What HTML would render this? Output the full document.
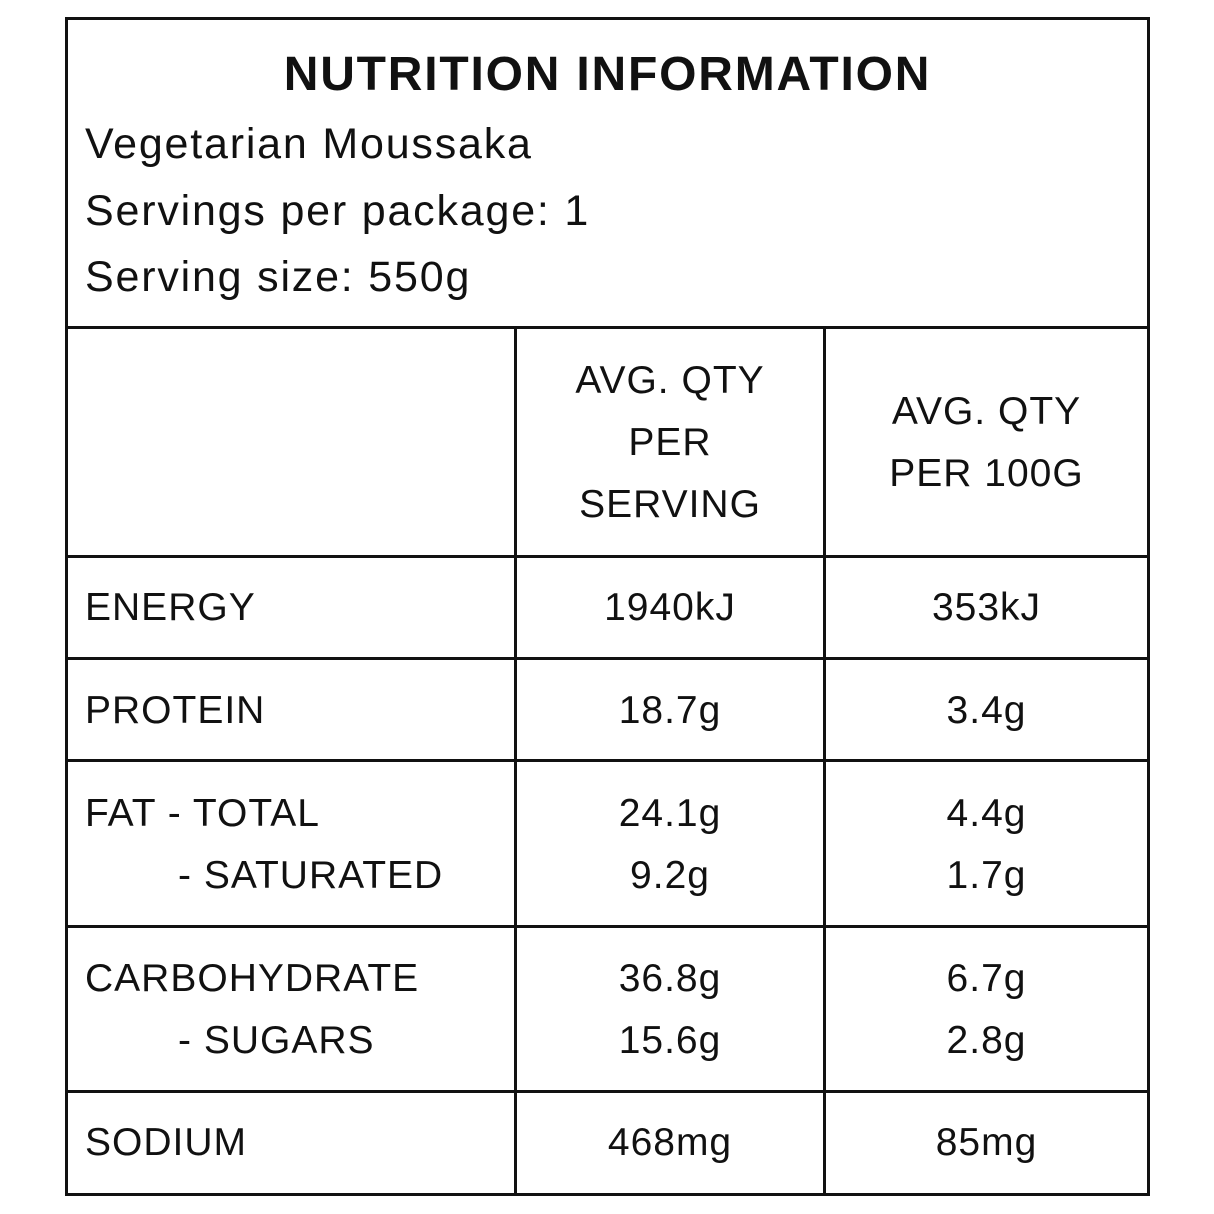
<!DOCTYPE html>
<html><head><style>
body{margin:0;width:1214px;height:1214px;background:#fff;position:relative;font-family:"Liberation Sans",sans-serif;color:#111;overflow:hidden}
.h{position:absolute;background:#111;height:3px}
.v{position:absolute;background:#111;width:3px}
.t{position:absolute;font-size:39px;line-height:62px;white-space:nowrap;letter-spacing:1px}
.c{text-align:center}
.m{font-size:43px;letter-spacing:1.8px}
</style></head><body>
<div class="h" style="left:65px;top:17px;width:1085px"></div>
<div class="h" style="left:65px;top:1193px;width:1085px"></div>
<div class="v" style="left:65px;top:17px;height:1179px"></div>
<div class="v" style="left:1147px;top:17px;height:1179px"></div>
<div class="h" style="left:65px;top:326px;width:1085px"></div>
<div class="h" style="left:65px;top:555px;width:1085px"></div>
<div class="h" style="left:65px;top:657px;width:1085px"></div>
<div class="h" style="left:65px;top:759px;width:1085px"></div>
<div class="h" style="left:65px;top:925px;width:1085px"></div>
<div class="h" style="left:65px;top:1090px;width:1085px"></div>
<div class="v" style="left:514px;top:326px;height:870px"></div>
<div class="v" style="left:823px;top:326px;height:870px"></div>

<div class="t c" style="left:65px;width:1085px;top:44px;font-weight:bold;font-size:48px;letter-spacing:1.8px">NUTRITION INFORMATION</div>
<div class="t m" style="left:85px;top:113px">Vegetarian Moussaka</div>
<div class="t m" style="left:85px;top:180px">Servings per package: 1</div>
<div class="t m" style="left:85px;top:246px">Serving size: 550g</div>

<div class="t c" style="left:517px;width:306px;top:350px">AVG. QTY<br>PER<br>SERVING</div>
<div class="t c" style="left:826px;width:321px;top:381px">AVG. QTY<br>PER 100G</div>

<div class="t" style="left:85px;top:577px">ENERGY</div>
<div class="t c" style="left:517px;width:306px;top:577px">1940kJ</div>
<div class="t c" style="left:826px;width:321px;top:577px">353kJ</div>

<div class="t" style="left:85px;top:680px">PROTEIN</div>
<div class="t c" style="left:517px;width:306px;top:680px">18.7g</div>
<div class="t c" style="left:826px;width:321px;top:680px">3.4g</div>

<div class="t" style="left:85px;top:783px">FAT - TOTAL</div>
<div class="t" style="left:178px;top:845px">- SATURATED</div>
<div class="t c" style="left:517px;width:306px;top:783px">24.1g<br>9.2g</div>
<div class="t c" style="left:826px;width:321px;top:783px">4.4g<br>1.7g</div>

<div class="t" style="left:85px;top:948px">CARBOHYDRATE</div>
<div class="t" style="left:178px;top:1010px">- SUGARS</div>
<div class="t c" style="left:517px;width:306px;top:948px">36.8g<br>15.6g</div>
<div class="t c" style="left:826px;width:321px;top:948px">6.7g<br>2.8g</div>

<div class="t" style="left:85px;top:1112px">SODIUM</div>
<div class="t c" style="left:517px;width:306px;top:1112px">468mg</div>
<div class="t c" style="left:826px;width:321px;top:1112px">85mg</div>
</body></html>
